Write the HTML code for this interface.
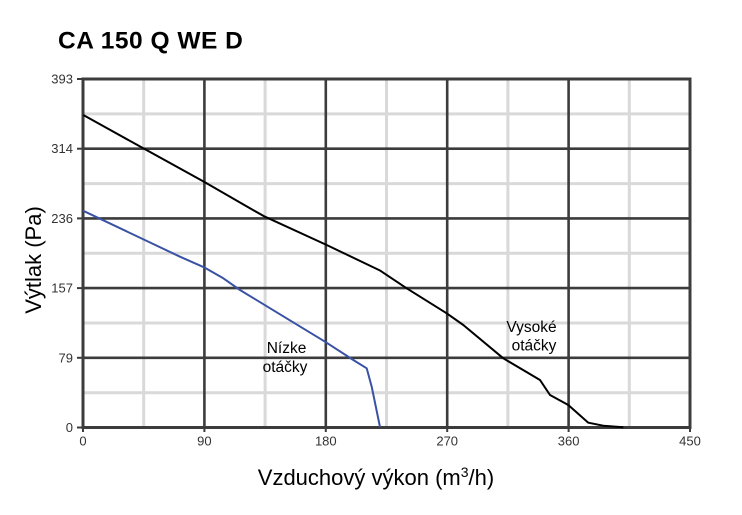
<!DOCTYPE html>
<html><head><meta charset="utf-8"><style>
html,body{margin:0;padding:0;background:#fff;}
svg{display:block;}
text{font-family:"Liberation Sans",Arial,sans-serif;}
</style></head><body>
<svg width="742" height="515" viewBox="0 0 742 515" xmlns="http://www.w3.org/2000/svg">
<rect width="742" height="515" fill="#fff"/>
<text x="58" y="48.5" font-size="24.5" font-weight="bold" letter-spacing="0.5" fill="#000">CA 150 Q WE D</text>
<!-- light grid -->
<g stroke="#d9d9d9" stroke-width="3">
<line x1="143.7" y1="79" x2="143.7" y2="427.5"/>
<line x1="265.1" y1="79" x2="265.1" y2="427.5"/>
<line x1="386.5" y1="79" x2="386.5" y2="427.5"/>
<line x1="507.9" y1="79" x2="507.9" y2="427.5"/>
<line x1="629.3" y1="79" x2="629.3" y2="427.5"/>
<line x1="83" y1="113.9" x2="690" y2="113.9"/>
<line x1="83" y1="183.6" x2="690" y2="183.6"/>
<line x1="83" y1="253.3" x2="690" y2="253.3"/>
<line x1="83" y1="323" x2="690" y2="323"/>
<line x1="83" y1="392.7" x2="690" y2="392.7"/>
</g>
<!-- major grid -->
<g stroke="#3c3c3c" stroke-width="2.6">
<line x1="204.4" y1="79" x2="204.4" y2="427.5"/>
<line x1="325.8" y1="79" x2="325.8" y2="427.5"/>
<line x1="447.2" y1="79" x2="447.2" y2="427.5"/>
<line x1="568.6" y1="79" x2="568.6" y2="427.5"/>
<line x1="83" y1="148.7" x2="690" y2="148.7"/>
<line x1="83" y1="218.4" x2="690" y2="218.4"/>
<line x1="83" y1="288.1" x2="690" y2="288.1"/>
<line x1="83" y1="357.8" x2="690" y2="357.8"/>
</g>
<g stroke="#3c3c3c" stroke-width="3">
<rect x="83" y="79" width="607" height="348.5" fill="none"/>
</g>
<!-- tick marks -->
<g stroke="#3c3c3c" stroke-width="2">
<line x1="77" y1="79" x2="83" y2="79"/>
<line x1="77" y1="148.7" x2="83" y2="148.7"/>
<line x1="77" y1="218.4" x2="83" y2="218.4"/>
<line x1="77" y1="288.1" x2="83" y2="288.1"/>
<line x1="77" y1="357.8" x2="83" y2="357.8"/>
<line x1="77" y1="427.5" x2="83" y2="427.5"/>
<line x1="83" y1="427.5" x2="83" y2="432"/>
<line x1="204.4" y1="427.5" x2="204.4" y2="432"/>
<line x1="325.8" y1="427.5" x2="325.8" y2="432"/>
<line x1="447.2" y1="427.5" x2="447.2" y2="432"/>
<line x1="568.6" y1="427.5" x2="568.6" y2="432"/>
<line x1="690" y1="427.5" x2="690" y2="432"/>
</g>
<!-- tick labels -->
<g font-size="13" fill="#333" text-anchor="end">
<text x="73" y="83.5">393</text>
<text x="73" y="153.2">314</text>
<text x="73" y="222.9">236</text>
<text x="73" y="292.6">157</text>
<text x="73" y="362.3">79</text>
<text x="73" y="432">0</text>
</g>
<g font-size="13" fill="#333" text-anchor="middle">
<text x="83" y="445.5">0</text>
<text x="204.4" y="445.5">90</text>
<text x="325.8" y="445.5">180</text>
<text x="447.2" y="445.5">270</text>
<text x="568.6" y="445.5">360</text>
<text x="690" y="445.5">450</text>
</g>
<!-- curves -->
<polyline fill="none" stroke="#000" stroke-width="2" stroke-linejoin="round" points="83.3,115 143.3,148.3 204,181.7 253,210 265,216.7 326.7,245 380,270.5 406.7,288.3 446.7,313.3 463.3,325 503.3,358.3 540,380 550,395 568.3,405 588.3,422.7 603.3,425.7 623.3,427.3"/>
<polyline fill="none" stroke="#3a52a3" stroke-width="2" stroke-linejoin="round" points="83,210.7 180,256.7 204,267.3 223.3,278.3 240,290 325,341.7 353.3,360 366.7,368.3 371.7,386.7 380,427"/>
<!-- curve labels -->
<g font-size="15.5" fill="#000" text-anchor="middle">
<text x="286.5" y="353">Nízke</text>
<text x="285" y="372">otáčky</text>
<text x="531.5" y="332">Vysoké</text>
<text x="534" y="350.5">otáčky</text>
</g>
<!-- axis titles -->
<text x="376" y="485" font-size="22" fill="#000" text-anchor="middle">Vzduchový výkon (m<tspan font-size="14" dy="-8">3</tspan><tspan dy="8">/h)</tspan></text>
<text transform="translate(41,260) rotate(-90)" font-size="22" fill="#000" text-anchor="middle">Výtlak (Pa)</text>
</svg>
</body></html>
